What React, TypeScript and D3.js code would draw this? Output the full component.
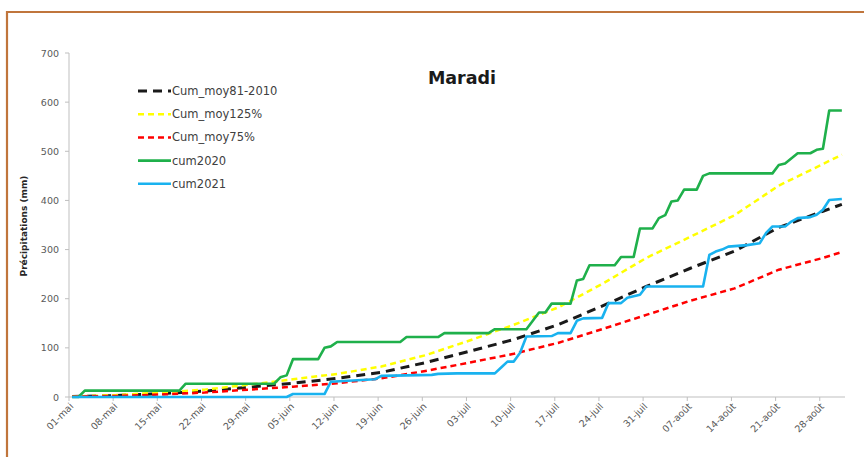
import React from "react";
import * as d3 from "d3";

// day index 0 = 01-mai
const xTickLabels = ["01-mai","08-mai","15-mai","22-mai","29-mai","05-juin","12-juin","19-juin","26-juin","03-juil","10-juil","17-juil","24-juil","31-juil","07-août","14-août","21-août","28-août"];
const yTicks = [0,100,200,300,400,500,600,700];

const cumMoy: [number, number][] = [[0,1],[7,3],[14,7],[21,12],[28,20],[35,28],[42,38],[49,50],[56,70],[63,93],[70,117],[77,147],[84,185],[91,225],[98,262],[105,297],[112,345],[119,378],[122,392]];
const cumMoy125: [number, number][] = [[0,1],[7,4],[14,9],[21,15],[28,25],[35,36],[42,47],[49,62],[56,85],[63,115],[70,147],[77,182],[84,230],[91,283],[98,326],[105,370],[112,430],[119,474],[122,493]];
const cumMoy75: [number, number][] = [[0,1],[7,2],[14,5],[21,9],[28,15],[35,21],[42,28],[49,38],[56,53],[63,70],[70,88],[77,110],[84,138],[91,167],[98,196],[105,221],[112,259],[119,283],[122,295]];
const cum2020: [number, number][] = [[0,0],[1,0],[2,13],[17,13],[18,27],[32,27],[33,40],[34,44],[35,77],[39,77],[40,100],[41,103],[42,112],[52,112],[53,122],[58,122],[59,130],[66,130],[67,138],[72,138],[74,172],[75,172],[76,190],[79,190],[80,237],[81,240],[82,268],[86,268],[87,285],[89,285],[90,343],[92,343],[93,364],[94,370],[95,398],[96,400],[97,422],[99,422],[100,450],[101,455],[111,455],[112,472],[113,475],[115,496],[117,496],[118,503],[119,505],[120,583],[122,583]];
const cum2021: [number, number][] = [[0,0],[34,0],[35,6],[40,6],[41,31],[48,36],[49,43],[57,45],[58,47],[61,48],[67,48],[68,60],[69,72],[70,72],[71,90],[72,123],[76,124],[77,130],[79,130],[80,155],[81,160],[84,161],[85,191],[87,191],[88,202],[90,208],[91,225],[100,225],[101,289],[102,296],[103,300],[104,306],[107,309],[109,313],[110,334],[111,347],[113,347],[114,357],[115,364],[117,366],[118,371],[119,381],[120,401],[122,403]];

const seriesNames = ["Cum_moy81-2010","Cum_moy125%","Cum_moy75%","cum2020","cum2021"];

const styles = [
  { color: "#1a1a1a", width: 3, dash: "9,6" },
  { color: "#ffff00", width: 2.5, dash: "6,4" },
  { color: "#ff0000", width: 2.5, dash: "6,4" },
  { color: "#1fb04b", width: 2.6, dash: "" },
  { color: "#19b2ef", width: 2.6, dash: "" },
];

export default function App() {
  const W = 864, H = 457;
  const x = d3.scaleLinear().domain([0, 123]).range([69, 845]);
  const y = d3.scaleLinear().domain([0, 700]).range([397, 53]);
  const line = d3.line<[number, number]>().x(d => x(d[0] + 0.5)).y(d => y(d[1]));
  const data = [cumMoy, cumMoy125, cumMoy75, cum2020, cum2021];
  const font = "'DejaVu Sans', sans-serif";
  return (
    <svg width={W} height={H} style={{ position: "absolute", left: 0, top: 0, background: "#fff" }}>
      <rect x={0} y={0} width={W} height={H} fill="#fff" />
      <path d={`M7,${H + 5} L7,12 L${W + 5},12`} fill="none" stroke="#c0753c" strokeWidth={2.2} />
      {/* y axis */}
      <line x1={69} x2={69} y1={y(700)} y2={y(0)} stroke="#bfbfbf" strokeWidth={1} />
      {yTicks.map(t => (
        <g key={t}>
          <line x1={65} x2={69} y1={y(t)} y2={y(t)} stroke="#bfbfbf" />
          <text x={59} y={y(t) + 3.5} textAnchor="end" fontFamily={font} fontSize={9.5} fill="#595959">{t}</text>
        </g>
      ))}
      {/* x axis */}
      <line x1={69} x2={845} y1={y(0)} y2={y(0)} stroke="#bfbfbf" strokeWidth={1} />
      {xTickLabels.map((lab, i) => (
        <g key={lab}>
          <line x1={x(i * 7)} x2={x(i * 7)} y1={y(0)} y2={y(0) + 4} stroke="#bfbfbf" />
          <text transform={`translate(${x(i * 7) + 5},${y(0) + 10}) rotate(-45)`} textAnchor="end" fontFamily={font} fontSize={9.5} fill="#595959">{lab}</text>
        </g>
      ))}
      <text transform={`translate(27,226) rotate(-90)`} textAnchor="middle" fontFamily={font} fontWeight="bold" fontSize={9} fill="#262626">Précipitations (mm)</text>
      <text x={462} y={84} textAnchor="middle" fontFamily={font} fontWeight="bold" fontSize={17.5} fill="#1a1a1a">Maradi</text>
      {/* series */}
      {data.map((d, i) => (
        <path key={i} d={line(d) || ""} fill="none" stroke={styles[i].color} strokeWidth={styles[i].width} strokeDasharray={styles[i].dash || undefined} strokeLinejoin="round" />
      ))}
      {/* legend */}
      {seriesNames.map((n, i) => {
        const ly = 91 + i * 23.2;
        return (
          <g key={n}>
            <line x1={138} x2={171} y1={ly} y2={ly} stroke={styles[i].color} strokeWidth={styles[i].width} strokeDasharray={styles[i].dash || undefined} />
            <text x={172} y={ly + 4} fontFamily={font} fontSize={11.5} fill="#404040">{n}</text>
          </g>
        );
      })}
    </svg>
  );
}
